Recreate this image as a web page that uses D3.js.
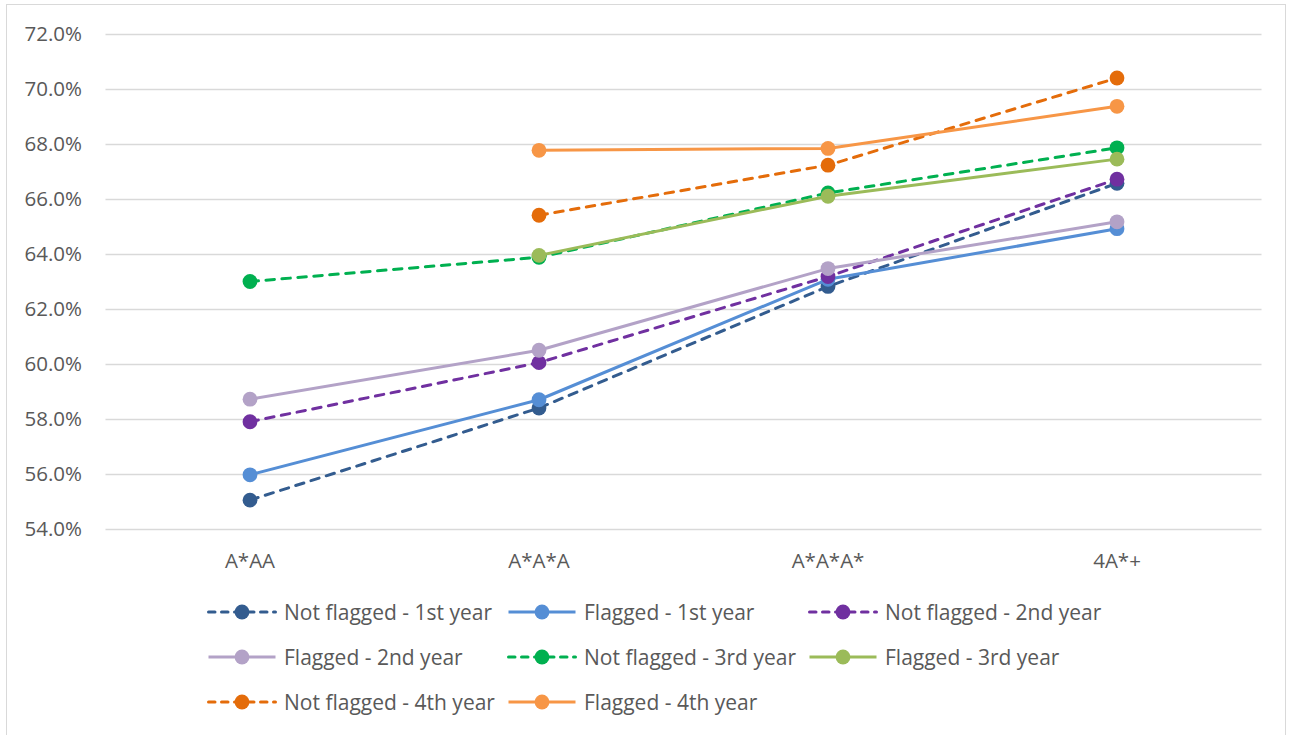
<!DOCTYPE html>
<html>
<head>
<meta charset="utf-8">
<script src="https://cdn.jsdelivr.net/npm/d3@7"></script>
<style>
  html, body { margin: 0; padding: 0; background: #fff; }
  svg { display: block; font-family: "Open Sans", "Noto Sans", sans-serif; }
</style>
</head>
<body>
<svg id="chart" width="1292" height="735"></svg>
<script>
// Categories along the x axis
const categories = ["A*AA", "A*A*A", "A*A*A*", "4A*+"];

// Series values (percent); null = no data for that grade profile
const notFlagged1 = [55.05, 58.40, 62.82, 66.57];
const flagged1    = [55.97, 58.70, 63.08, 64.92];
const notFlagged2 = [57.90, 60.05, 63.18, 66.72];
const flagged2    = [58.72, 60.50, 63.47, 65.17];
const notFlagged3 = [63.00, 63.88, 66.22, 67.86];
const flagged3    = [null, 63.95, 66.10, 67.45];
const notFlagged4 = [null, 65.41, 67.23, 70.40];
const flagged4    = [null, 67.77, 67.84, 69.37];

// Series names
const seriesNames = [
  "Not flagged - 1st year", "Flagged - 1st year", "Not flagged - 2nd year",
  "Flagged - 2nd year", "Not flagged - 3rd year", "Flagged - 3rd year",
  "Not flagged - 4th year", "Flagged - 4th year"
];

// Y axis ticks
const yTicks = [54, 56, 58, 60, 62, 64, 66, 68, 70, 72];

const seriesValues = [notFlagged1, flagged1, notFlagged2, flagged2,
                      notFlagged3, flagged3, notFlagged4, flagged4];
const colors = ["#335C8F", "#558ED5", "#7030A0", "#B3A2C7",
                "#00B050", "#9BBB59", "#E46C0A", "#F79646"];
const dashed = [true, false, true, false, true, false, true, false];

const series = seriesNames.map((name, i) => ({
  name, values: seriesValues[i], color: colors[i], dashed: dashed[i]
}));

const svg = d3.select("#chart");
const W = 1292, H = 735;
const textColor = "#595959";
const fontStack = "'Open Sans', 'Noto Sans', sans-serif";
const dashPattern = "8.5,7.5";

// Chart frame
svg.append("rect")
  .attr("x", 6.5).attr("y", 4.5).attr("width", W - 13).attr("height", H)
  .attr("fill", "#fff").attr("stroke", "#d9d9d9").attr("stroke-width", 1);

const plot = { left: 105.5, right: 1261.5, top: 34, bottom: 529 };

const x = d3.scaleBand().domain(categories).range([plot.left, plot.right]);
const y = d3.scaleLinear().domain([54, 72]).range([plot.bottom, plot.top]);
const cx = c => x(c) + x.bandwidth() / 2;

// Horizontal gridlines
svg.append("g").selectAll("line").data(yTicks).join("line")
  .attr("x1", plot.left).attr("x2", plot.right)
  .attr("y1", d => Math.round(y(d)) + 0.5).attr("y2", d => Math.round(y(d)) + 0.5)
  .attr("stroke", "#d9d9d9").attr("stroke-width", 1.3);

// Y axis labels
const yAxis = d3.axisLeft(y).tickValues(yTicks).tickSize(0).tickPadding(0)
  .tickFormat(d => d.toFixed(1) + "%");
const gy = svg.append("g").attr("transform", `translate(${82},0)`).call(yAxis);
gy.select(".domain").remove();
gy.selectAll("text").attr("fill", textColor).style("font-size", "20.5px")
  .style("font-family", fontStack);

// X axis labels
const xAxis = d3.axisBottom(x).tickSize(0).tickPadding(0);
const gx = svg.append("g").attr("transform", `translate(0,${568})`).call(xAxis);
gx.select(".domain").remove();
gx.selectAll("text").attr("dy", null).attr("y", 0)
  .attr("fill", textColor).style("font-size", "20.5px")
  .style("font-family", fontStack);

// Lines and markers
const line = d3.line()
  .defined(d => d.v !== null)
  .x(d => cx(d.c))
  .y(d => y(d.v));

series.forEach(s => {
  const pts = categories.map((c, i) => ({ c, v: s.values[i] }));
  const g = svg.append("g");
  g.append("path").datum(pts)
    .attr("d", line)
    .attr("fill", "none")
    .attr("stroke", s.color)
    .attr("stroke-width", 3)
    .attr("stroke-dasharray", s.dashed ? dashPattern : null)
    .attr("stroke-linecap", s.dashed ? "round" : "butt")
    .attr("stroke-linejoin", "round");
  g.selectAll("circle").data(pts.filter(d => d.v !== null)).join("circle")
    .attr("cx", d => cx(d.c)).attr("cy", d => y(d.v))
    .attr("r", 7.4).attr("fill", s.color);
});

// Legend: three columns, three rows
const legendCols = [207, 507, 808];
const legendRows = [612, 657, 702];
const legend = svg.append("g");
series.forEach((s, i) => {
  const lx = legendCols[i % 3], ly = legendRows[Math.floor(i / 3)];
  const g = legend.append("g").attr("transform", `translate(${lx},${ly})`);
  g.append("line").attr("x1", 1.5).attr("x2", 68.5).attr("y1", 0).attr("y2", 0)
    .attr("stroke", s.color).attr("stroke-width", 3)
    .attr("stroke-linecap", s.dashed ? "round" : "butt")
    .attr("stroke-dasharray", s.dashed ? "6.5,6.5" : null);
  g.append("circle").attr("cx", 35).attr("cy", 0).attr("r", 7.4).attr("fill", s.color);
  g.append("text").attr("x", 77).attr("y", 0).attr("dy", "0.37em")
    .attr("fill", textColor).style("font-size", "21px")
    .text(s.name);
});
</script>
</body>
</html>
